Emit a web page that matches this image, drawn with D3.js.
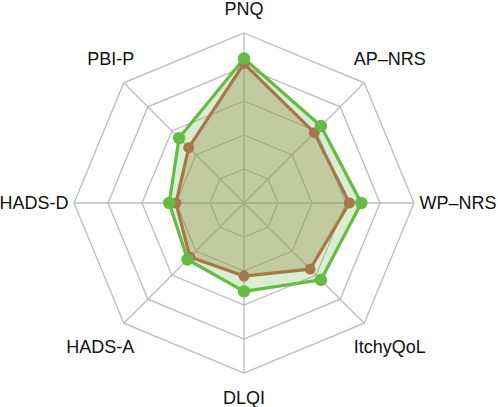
<!DOCTYPE html>
<html>
<head>
<meta charset="utf-8">
<script src="https://cdn.jsdelivr.net/npm/d3@7"></script>
<style>
  body { margin: 0; background: #fff; }
  text { font-family: "Liberation Sans", Arial, sans-serif; }
</style>
</head>
<body>
<div id="radar"></div>
<script>
// axes, clockwise from the top
const axes = ["PNQ", "AP\u2013NRS", "WP\u2013NRS", "ItchyQoL", "DLQI", "HADS-A", "HADS-D", "PBI-P"]
// values, scale 0-100
const green_values = [85, 64, 69, 64, 52, 47, 44, 54]
const brown_values = [82, 58.5, 62, 55, 43, 45, 40, 46]
const levels = [20, 40, 60, 80, 100]

const width = 498, height = 407
const cx = 244, cy = 203, R = 170

const svg = d3.select("#radar")
    .append("svg")
    .attr("width", width)
    .attr("height", height)

const r = d3.scaleLinear().domain([0, 100]).range([0, R])
const angle = d3.scaleLinear().domain([0, axes.length]).range([0, 2 * Math.PI])

const g = svg.append("g")
    .attr("transform", "translate(" + cx + "," + cy + ")")

const radial = d3.lineRadial()
    .angle((d, i) => angle(i))
    .radius(d => r(d))
    .curve(d3.curveLinearClosed)

// grid rings
g.selectAll(".ring")
    .data(levels)
    .enter()
    .append("path")
    .attr("d", lv => radial(axes.map(() => lv)))
    .attr("fill", "none")
    .attr("stroke", "#bbbbbb")
    .attr("stroke-width", 1.3)

// spokes
g.selectAll(".spoke")
    .data(axes)
    .enter()
    .append("line")
    .attr("x1", 0).attr("y1", 0)
    .attr("x2", (d, i) => r(100) * Math.sin(angle(i)))
    .attr("y2", (d, i) => -r(100) * Math.cos(angle(i)))
    .attr("stroke", "#bbbbbb")
    .attr("stroke-width", 1.3)

function draw_series(values, fill, stroke, dot_r) {
    g.append("path")
        .attr("d", radial(values))
        .attr("fill", fill)
        .attr("stroke", "none")
    return {values: values, stroke: stroke, dot_r: dot_r}
}

const series = [
    draw_series(brown_values, "rgba(165,117,72,0.35)", "#a5774b", 5.5),
    draw_series(green_values, "rgba(102,187,68,0.25)", "#66bb46", 6.2)
]

series.forEach(s => {
    g.append("path")
        .attr("d", radial(s.values))
        .attr("fill", "none")
        .attr("stroke", s.stroke)
        .attr("stroke-width", 3.2)
        .attr("stroke-linejoin", "round")
})

series.forEach(s => {
    g.selectAll(null)
        .data(s.values)
        .enter()
        .append("circle")
        .attr("cx", (d, i) => r(d) * Math.sin(angle(i)))
        .attr("cy", (d, i) => -r(d) * Math.cos(angle(i)))
        .attr("r", s.dot_r)
        .attr("fill", s.stroke)
})

// axis labels
g.selectAll(".label")
    .data(axes)
    .enter()
    .append("text")
    .text(d => d)
    .attr("font-size", "18px")
    .attr("fill", "#111")
    .attr("dominant-baseline", "central")
    .each(function (d, i) {
        const s = Math.sin(angle(i)), c = -Math.cos(angle(i))
        let x, y, anchor
        if (Math.abs(s) < 0.01) {
            // top / bottom
            x = 0
            y = c * (R + 24.5)
            anchor = "middle"
        } else if (Math.abs(c) < 0.01) {
            // left / right
            x = s * (R + 5.5)
            y = 0
            anchor = s > 0 ? "start" : "end"
        } else {
            x = Math.sign(s) * R * 0.645
            y = c * (R + 33)
            anchor = s > 0 ? "start" : "end"
        }
        d3.select(this)
            .attr("x", x)
            .attr("y", y)
            .attr("text-anchor", anchor)
    })
</script>
</body>
</html>
